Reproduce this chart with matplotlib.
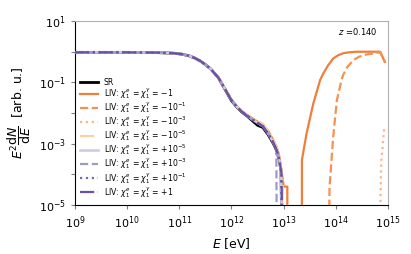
import numpy as np
import matplotlib
matplotlib.use("Agg")
from matplotlib import pyplot as plt

# log10(E / eV) and log10(E^2 dN/dE)
base_logE = [9.0, 10.0, 10.6, 10.9, 11.05, 11.2, 11.3, 11.4, 11.5, 11.6, 11.75, 11.9,
             12.0, 12.1, 12.2, 12.3, 12.4, 12.5, 12.6, 12.7, 12.8, 12.87, 12.92]
sr_logy = [-0.02, -0.02, -0.03, -0.05, -0.08, -0.14, -0.21, -0.30, -0.42, -0.56, -0.85,
           -1.30, -1.60, -1.80, -1.97, -2.10, -2.25, -2.40, -2.47, -2.70, -2.99, -3.24, -3.57]
purple_logy = [-0.02, -0.02, -0.03, -0.05, -0.08, -0.14, -0.21, -0.30, -0.42, -0.56, -0.85,
               -1.29, -1.58, -1.79, -1.96, -2.09, -2.21, -2.32, -2.43, -2.66, -2.96, -3.22, -3.55]
orange_logy = [-0.02, -0.02, -0.03, -0.05, -0.08, -0.14, -0.21, -0.30, -0.42, -0.56, -0.84,
               -1.28, -1.57, -1.77, -1.94, -2.06, -2.18, -2.28, -2.37, -2.58, -2.88, -3.13, -3.45]

# high-energy tails (log10 E, log10 y)
tail_m1_logE = [12.96, 13.0, 13.07, 13.07, 13.35, 13.35, 13.44, 13.57, 13.70, 13.76, 13.85,
                13.95, 14.05, 14.14, 14.25, 14.40, 14.85, 14.94]
tail_m1_logy = [-3.9, -4.4, -4.4, -7.0, -7.0, -3.53, -2.66, -1.68, -0.92, -0.71, -0.45,
                -0.22, -0.11, -0.05, -0.02, 0.0, 0.0, -0.33]
tail_m01_logE = [12.96, 12.99, 13.86, 13.88, 13.95, 14.02, 14.11, 14.14, 14.22, 14.34, 14.45,
                 14.59, 14.85, 14.94]
tail_m01_logy = [-3.95, -7.0, -7.0, -4.4, -2.77, -1.58, -0.92, -0.76, -0.50, -0.27, -0.16,
                 -0.09, -0.02, -0.33]
tail_m3_logE = [12.96, 12.99, 14.83, 14.87, 14.93]
tail_m3_logy = [-4.0, -7.0, -7.0, -3.6, -2.45]
tail_m5_logE = [12.95, 12.98, 13.0]
tail_m5_logy = [-3.75, -4.3, -7.0]
tail_p5_logE = [12.95, 12.97]
tail_p5_logy = [-4.0, -7.0]
tail_p3_logE = [12.86, 12.87]
tail_p3_logy = [-3.3, -7.0]
tail_p1_logE = [12.95, 12.97]
tail_p1_logy = [-3.95, -7.0]
tail_1_logE = [12.96, 12.98]
tail_1_logy = [-4.0, -7.0]
sr_tail_logE = [12.95, 12.97]
sr_tail_logy = [-3.9, -7.0]

labels = [r"LIV: $\chi_1^e$ = $\chi_1^\gamma$ = $-1$",
          r"LIV: $\chi_1^e$ = $\chi_1^\gamma$ = $-10^{-1}$",
          r"LIV: $\chi_1^e$ = $\chi_1^\gamma$ = $-10^{-3}$",
          r"LIV: $\chi_1^e$ = $\chi_1^\gamma$ = $-10^{-5}$",
          r"LIV: $\chi_1^e$ = $\chi_1^\gamma$ = $+10^{-5}$",
          r"LIV: $\chi_1^e$ = $\chi_1^\gamma$ = $+10^{-3}$",
          r"LIV: $\chi_1^e$ = $\chi_1^\gamma$ = $+10^{-1}$",
          r"LIV: $\chi_1^e$ = $\chi_1^\gamma$ = $+1$"]
tails = [(tail_m1_logE, tail_m1_logy), (tail_m01_logE, tail_m01_logy),
         (tail_m3_logE, tail_m3_logy), (tail_m5_logE, tail_m5_logy),
         (tail_p5_logE, tail_p5_logy), (tail_p3_logE, tail_p3_logy),
         (tail_p1_logE, tail_p1_logy), (tail_1_logE, tail_1_logy)]
colors = ['#f07f3a', '#f5924f', '#fbb48a', '#fdd0a8',
          '#cbc9e2', '#9e9ac8', '#756bb1', '#6a51a3']
styles = ['-', '--', ':', '-.', '-', '--', ':', '-.']

fig = plt.figure(figsize=(4.11, 2.54), dpi=100)
ax = fig.add_axes([0.1825, 0.193, 0.7615, 0.724])

sr_line, = ax.plot(10 ** np.array(base_logE + sr_tail_logE), 10 ** np.array(sr_logy + sr_tail_logy),
                   color='black', lw=2.0, label='SR', zorder=2)

# oranges first, purples drawn over them
handles = {}
for i in range(8):
    tE, ty = tails[i]
    body = orange_logy if i < 4 else purple_logy
    lw = 1.6 if i != 4 else 1.8
    h, = ax.plot(10 ** np.array(base_logE + tE), 10 ** np.array(body + ty),
                 color=colors[i], ls=styles[i], lw=lw, label=labels[i], zorder=3 + i * 0.1)
    handles[i] = h

ax.set_xscale('log')
ax.set_yscale('log')
ax.set_xlim(1e9, 1e15)
ax.set_ylim(1e-5, 1e1)
ax.set_xticks([10.0 ** k for k in range(9, 16)])
ax.set_xticklabels([r"$10^{%d}$" % k for k in range(9, 16)])
ax.set_yticks([10.0 ** k for k in range(-5, 2)])
ax.set_yticklabels([r"$10^{%d}$" % k if k % 2 else "" for k in range(-5, 2)])
ax.minorticks_off()
ax.tick_params(labelsize=8, length=3, width=0.8, colors='#808080', labelcolor='black')

for s in ['top', 'right']:
    ax.spines[s].set_color('#b0b0b0')
for s in ['left', 'bottom']:
    ax.spines[s].set_color('black')

ax.set_xlabel(r"$E$ [eV]", fontsize=9)
ax.set_ylabel(r"$E^2\dfrac{\mathrm{d}N}{\mathrm{d}E}$  [arb. u.]", fontsize=9)
ax.text(0.965, 0.945, r"$z$ =0.140", transform=ax.transAxes, ha='right', va='center',
        fontsize=6)

hl = [sr_line] + [handles[i] for i in range(8)]
ax.legend(hl, ['SR'] + labels, loc='lower left', frameon=False, fontsize=5.6,
          handlelength=2.2, labelspacing=-0.1, borderaxespad=0.3, handletextpad=0.8)

fig.savefig('out.png', dpi=100)
